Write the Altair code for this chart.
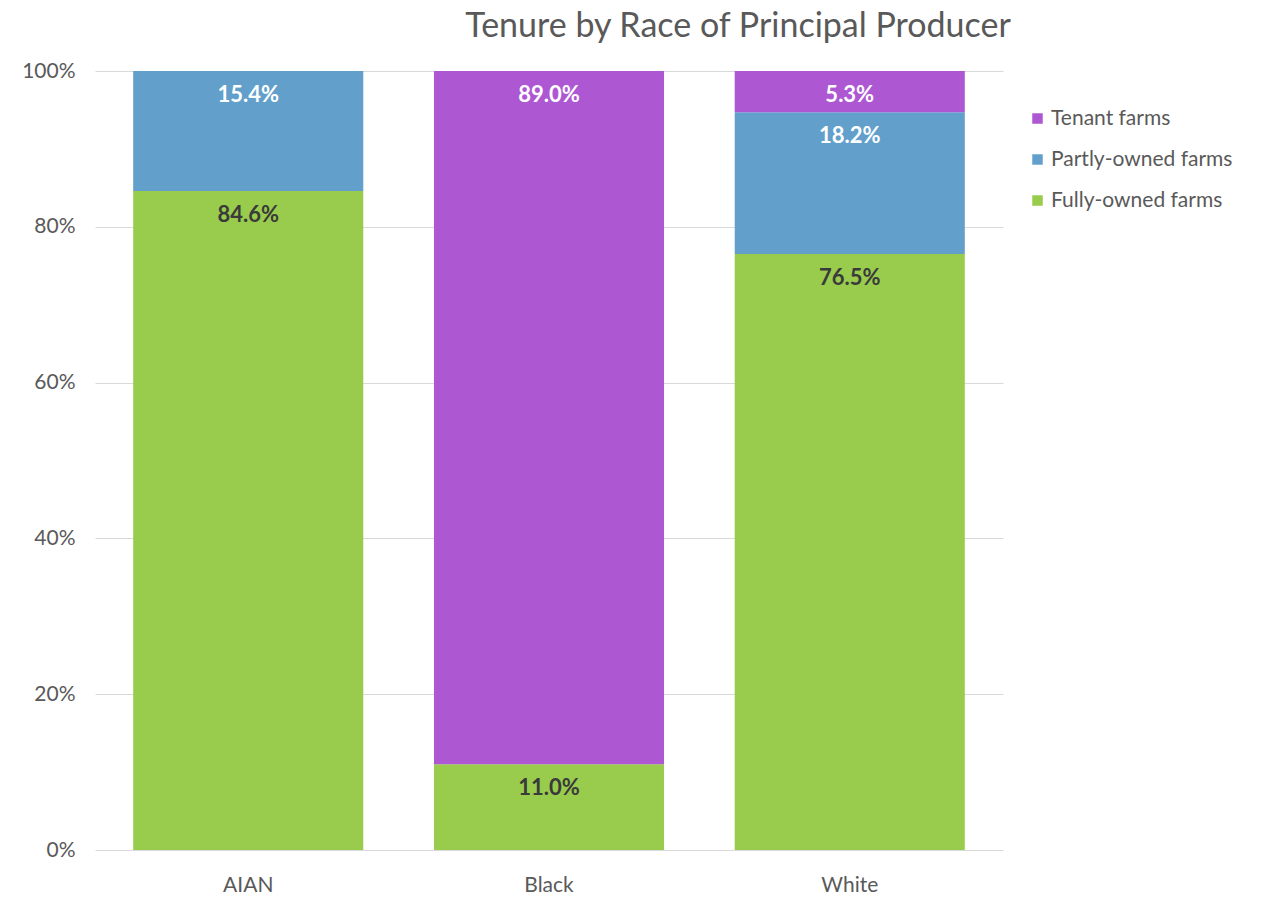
import altair as alt
import pandas as pd

races = ["AIAN", "Black", "White"]
series = ["Fully-owned farms", "Partly-owned farms", "Tenant farms"]
fully = [84.6, 11.0, 76.5]
partly = [15.4, 0.0, 18.2]
tenant = [0.0, 89.0, 5.3]
y_ticks = [0, 20, 40, 60, 80, 100]

rows = []
for i, r in enumerate(races):
    for k, (s, vals) in enumerate(zip(series, [fully, partly, tenant])):
        rows.append({"race": r, "series": s, "value": vals[i], "ord": k})
df = pd.DataFrame(rows)

FONT = "Lato"
GRAY = "#595959"
colors = ["#AE57D3", "#629FCB", "#99CC4D"]
legend_order = ["Tenant farms", "Partly-owned farms", "Fully-owned farms"]

base = alt.Chart(df).transform_stack(
    stack="value", groupby=["race"], as_=["v0", "v1"],
    sort=[alt.SortField("ord", order="ascending")]
)

x_enc = alt.X("race:N", sort=races, title=None,
              scale=alt.Scale(paddingInner=0.235, paddingOuter=0.127),
              axis=alt.Axis(labelAngle=0, labelFontSize=21, labelColor=GRAY, labelFont=FONT,
                            labelPadding=24, ticks=False, domain=False))

bars = base.mark_bar().encode(
    x=x_enc,
    y=alt.Y("v0:Q", title=None, scale=alt.Scale(domain=[0, 100], nice=False),
            axis=alt.Axis(values=y_ticks, labelExpr="datum.value + '%'", labelFontSize=21,
                          labelColor=GRAY, labelFont=FONT, labelPadding=20, ticks=False,
                          domain=False, gridColor="#D9D9D9", gridWidth=1.2)),
    y2="v1:Q",
    color=alt.Color("series:N", scale=alt.Scale(domain=legend_order, range=colors),
                    legend=alt.Legend(title=None, orient="none", legendX=932, legendY=37,
                                      symbolType="square", symbolSize=110, labelFontSize=21,
                                      labelColor=GRAY, labelFont=FONT, rowPadding=19,
                                      symbolStrokeWidth=0, labelOffset=3, labelLimit=300)),
)

labels = base.transform_filter("datum.value > 0").transform_calculate(
    lab="format(datum.value, '.1f') + '%'"
).mark_text(dy=24, fontSize=22, fontWeight="bold", font=FONT, baseline="middle").encode(
    x=alt.X("race:N", sort=races),
    y="v1:Q",
    text="lab:N",
    color=alt.condition("datum.series == 'Fully-owned farms'", alt.value("#3A3A3A"), alt.value("white")),
)

chart = alt.layer(bars, labels).properties(
    width=908, height=779,
    title=alt.TitleParams("Tenure by Race of Principal Producer", fontSize=34, font=FONT,
                          fontWeight="normal", color=GRAY, anchor="middle", dx=189, offset=16),
    autosize=alt.AutoSizeParams(type="none"),
    padding={"left": 95, "top": 71, "right": 262, "bottom": 50},
).configure_view(stroke=None)

chart.save("out.html", embed_options={"renderer": "svg", "actions": False})
